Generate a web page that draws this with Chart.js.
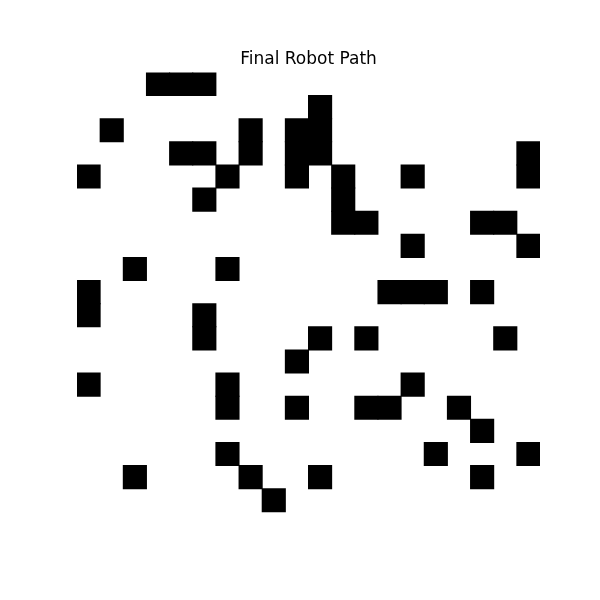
<!DOCTYPE html>
<html>
<head>
<meta charset="utf-8">
<script src="https://cdn.jsdelivr.net/npm/chart.js@4/dist/chart.umd.min.js"></script>
<style>
    html, body { margin: 0; padding: 0; background: #fff; }
    #wrap { width: 600px; height: 600px; }
</style>
</head>
<body>
<div id="wrap"><canvas id="pathChart"></canvas></div>
<script>
// Grid columns (0..19) and the black (path) cells per row, top row first
const columns = [0, 1, 2, 3, 4, 5, 6, 7, 8, 9, 10, 11, 12, 13, 14, 15, 16, 17, 18, 19];
const rowCount = 20;
const pathCells = [
    [3, 4, 5],
    [10],
    [1, 7, 9, 10],
    [4, 5, 7, 9, 10, 19],
    [0, 6, 9, 11, 14, 19],
    [5, 11],
    [11, 12, 17, 18],
    [14, 19],
    [2, 6],
    [0, 13, 14, 15, 17],
    [0, 5],
    [5, 10, 12, 18],
    [9],
    [0, 6, 14],
    [6, 9, 12, 13, 16],
    [17],
    [6, 15, 19],
    [2, 7, 10, 17],
    [8],
    []
];

// one floating-bar dataset per row: cell spans [row, row + 1]
const datasets = pathCells.map((cells, row) => ({
    data: columns.map(c => cells.includes(c) ? [row, row + 1] : null),
    backgroundColor: '#000000',
    borderWidth: 0,
    inflateAmount: 0.5,
    barPercentage: 1.0,
    categoryPercentage: 1.0,
    grouped: false
}));

const ctx = document.getElementById('pathChart').getContext('2d');
new Chart(ctx, {
    type: 'bar',
    data: {
        labels: columns,
        datasets: datasets
    },
    options: {
        responsive: true,
        maintainAspectRatio: false,
        animation: false,
        layout: {
            padding: { top: 49, left: 77, right: 60, bottom: 65 }
        },
        plugins: {
            legend: { display: false },
            tooltip: { enabled: false },
            title: {
                display: true,
                text: 'Final Robot Path',
                color: '#000000',
                font: { family: 'DejaVu Sans', size: 17, weight: 'normal', lineHeight: 1.2 },
                padding: { top: 0, bottom: 3 }
            }
        },
        scales: {
            x: {
                display: false,
                offset: true,
                grid: { display: false }
            },
            y: {
                display: false,
                min: 0,
                max: rowCount,
                reverse: true,
                grid: { display: false }
            }
        }
    }
});
</script>
</body>
</html>
